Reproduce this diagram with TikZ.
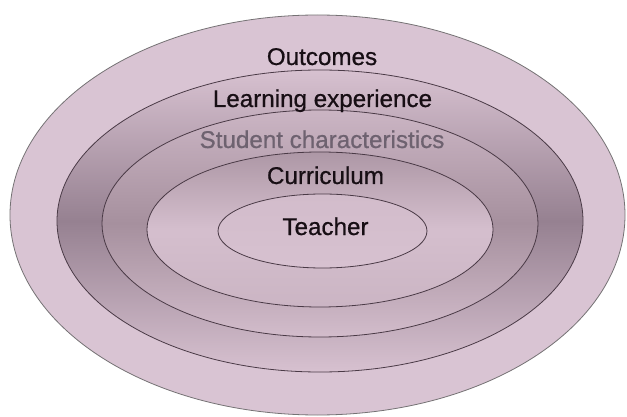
\documentclass[tikz,border=0pt]{standalone}
\usepackage{fontspec}
\setmainfont{Liberation Sans}
\newfontfamily\ringfont{Liberation Sans}[FakeBold=0.7]
\usepackage{tikz}
\usetikzlibrary{positioning}
\definecolor{outerfill}{HTML}{D9C4D3}
\definecolor{ringlight}{HTML}{D7C1D0}
\definecolor{ringdark}{HTML}{968191}
\definecolor{ringmid}{HTML}{A6909E}
\definecolor{rimline}{HTML}{4A3A46}
\definecolor{inkdark}{HTML}{170E14}
\definecolor{inkgrey}{HTML}{6E6270}
\tikzset{ring/.style={draw=rimline, line width=0.8pt},
  ringlabel/.style={anchor=base, inner sep=0pt, text=inkdark, font=\ringfont\fontsize{24.2}{29}\selectfont}}

\begin{document}
\begin{tikzpicture}[x=1pt, y=-1pt]
    \useasboundingbox (0,0) rectangle (627,417);
    \fill[white] (0,0) rectangle (627,417);
    % nested rings, outside in
    \draw[ring, draw=gray!80!rimline, fill=outerfill] (317.5,215) ellipse [x radius=307.5pt, y radius=200pt];
    \draw[ring, top color=ringlight, bottom color=ringlight, middle color=ringdark] (320,221) ellipse [x radius=263pt, y radius=151pt];
    \draw[ring, top color=ringlight!75!ringmid, bottom color=ringlight!90!ringmid, middle color=ringmid] (320,223.5) ellipse [x radius=218pt, y radius=113.5pt];
    \draw[ring, top color=ringmid!85!ringlight, bottom color=ringlight!75!ringmid, middle color=ringlight!95!ringmid] (320,229.5) ellipse [x radius=173pt, y radius=77.5pt];
    \draw[ring, top color=ringlight!90!ringmid, bottom color=ringlight] (322.5,231) ellipse [x radius=104.5pt, y radius=37pt];

    \node[ringlabel] (outcomes) at (322,65) {Outcomes};
    \node[ringlabel] (learning) at (322.5,107) {Learning experience};
    \node[ringlabel, text=inkgrey] (student) at (322,148) {Student characteristics};
    \node[ringlabel] (curriculum) at (325.5,184) {Curriculum};
    \node[ringlabel] (teacher) at (325.5,235) {Teacher};
  \end{tikzpicture}
\end{document}
